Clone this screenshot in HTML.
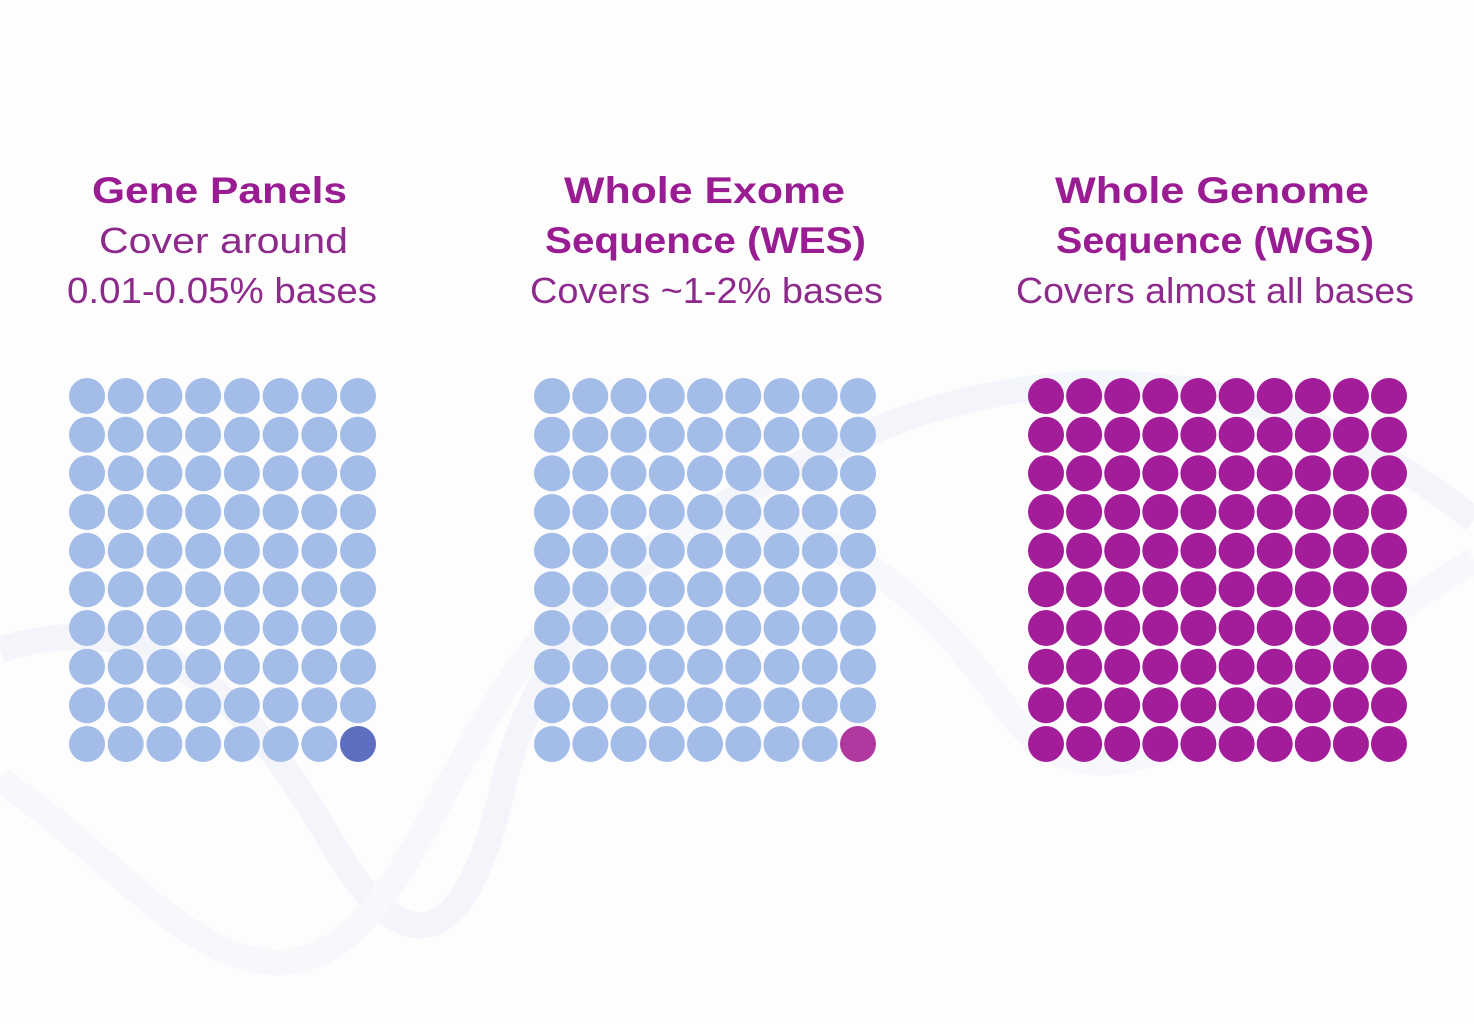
<!DOCTYPE html>
<html><head><meta charset="utf-8"><style>
html,body{margin:0;padding:0;background:#fdfdfe;}
svg{display:block}
.t{font-family:"Liberation Sans",sans-serif;fill:#9a1c93;text-anchor:middle}
.b{font-weight:bold;font-size:37px}
.l{font-size:36px;fill:#8e2a8c}
</style></head><body>
<svg id="s" width="1474" height="1024" viewBox="0 0 1474 1024">
<g fill="none" stroke-width="26" opacity="0.18">
<path d="M0 650 C150 600 250 700 330 840 C400 960 460 960 500 800 C540 600 700 500 900 420 C1100 350 1300 380 1474 520" stroke="#c7d6f0"/>
<path d="M0 780 C120 860 200 980 300 960 C420 930 450 700 600 580 C760 460 900 560 1000 700 C1100 850 1250 700 1474 560" stroke="#d9e3f5"/>
</g>
<text class="t b" x="219.5" y="203" textLength="255" lengthAdjust="spacingAndGlyphs">Gene Panels</text>
<text class="t l" x="223.5" y="253" textLength="249" lengthAdjust="spacingAndGlyphs">Cover around</text>
<text class="t l" x="222" y="303" textLength="310" lengthAdjust="spacingAndGlyphs">0.01-0.05% bases</text>
<text class="t b" x="704.5" y="203" textLength="281" lengthAdjust="spacingAndGlyphs">Whole Exome</text>
<text class="t b" x="705.5" y="253" textLength="321" lengthAdjust="spacingAndGlyphs">Sequence (WES)</text>
<text class="t l" x="706.5" y="303" textLength="353" lengthAdjust="spacingAndGlyphs">Covers ~1-2% bases</text>
<text class="t b" x="1212" y="203" textLength="314" lengthAdjust="spacingAndGlyphs">Whole Genome</text>
<text class="t b" x="1215" y="253" textLength="318" lengthAdjust="spacingAndGlyphs">Sequence (WGS)</text>
<text class="t l" x="1215" y="303" textLength="398" lengthAdjust="spacingAndGlyphs">Covers almost all bases</text>
<g id="g"></g>
</svg>
<script>
var g=document.getElementById('g'),h='';
function grid(x0,x1,n,col,last){
 for(var r=0;r<10;r++)for(var c=0;c<n;c++){
  var x=x0+(x1-x0)*c/(n-1),y=396+(744-396)*r/9;
  var f=col;if(r==9&&c==n-1)f=last;
  h+='<circle cx="'+x.toFixed(1)+'" cy="'+y.toFixed(1)+'" r="18" fill="'+f+'"/>';
 }
}
grid(87,358,8,'#a3bde8','#5f6fc0');
grid(552,858,9,'#a3bde8','#b0399f');
grid(1046,1389,10,'#a31c99','#a31c99');
g.innerHTML=h;
</script>
</body></html>
